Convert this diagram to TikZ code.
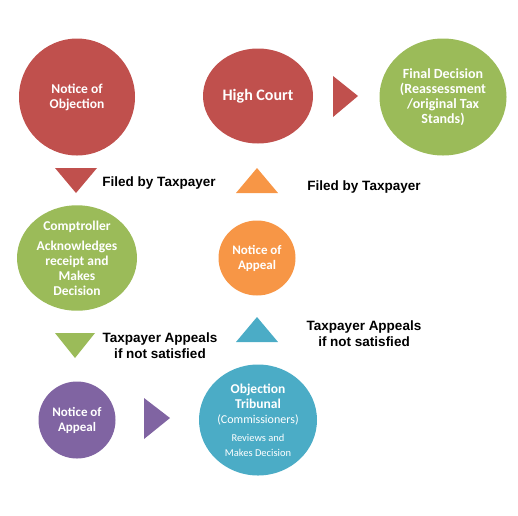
\documentclass[tikz,border=0pt]{standalone}
\usepackage{fontspec}
\setmainfont{Carlito}
\newfontfamily\lblfont{Liberation Sans}
\usetikzlibrary{shapes.geometric}
\definecolor{stepred}{HTML}{C0504D}
\definecolor{stepgreen}{HTML}{9BBB59}
\definecolor{steporange}{HTML}{F79646}
\definecolor{steppurple}{HTML}{8064A2}
\definecolor{stepteal}{HTML}{4BACC6}
\newcommand{\smalltxt}{\mdseries\fontsize{10.5}{12}\selectfont}

\begin{document}
\begin{tikzpicture}[x=1pt,y=-1pt,
  stage/.style={ellipse,inner sep=0pt,align=center,text=white,font=\bfseries\fontsize{13.5}{15}\selectfont},
  lab/.style={align=center,font=\lblfont\bfseries\fontsize{13.5}{16}\selectfont}]
  \useasboundingbox (0,0) rectangle (518,515);
  % row 1
  \node[stage,fill=stepred,minimum width=116pt,minimum height=117pt] (objection) at (77,97) {Notice of\\Objection};
  \node[stage,fill=stepred,minimum width=110pt,minimum height=95pt,font=\bfseries\fontsize{16}{18}\selectfont] (court) at (258,96) {High Court};
  \node[stage,fill=stepgreen,minimum width=127pt,minimum height=117pt,font=\bfseries\fontsize{14}{15}\selectfont] (final) at (443,97) {Final Decision\\(Reassessment\\/original Tax\\Stands)};
  % row 2
  \node[stage,fill=stepgreen,minimum width=120pt,minimum height=103pt,font=\bfseries\fontsize{13.5}{15}\selectfont] (comptroller) at (77,258) {Comptroller\\[5pt]Acknowledges\\receipt and\\Makes\\Decision};
  \node[stage,fill=steporange,minimum width=77pt,minimum height=75pt,font=\bfseries\fontsize{13}{15}\selectfont] (appealO) at (257,258) {Notice of\\Appeal};
  % row 3
  \node[stage,fill=steppurple,minimum width=77pt,minimum height=77pt,font=\bfseries\fontsize{13}{15}\selectfont] (appealP) at (77,420) {Notice of\\Appeal};
  \node[stage,fill=stepteal,minimum width=118pt,minimum height=111pt] (tribunal) at (258,420) {Objection\\Tribunal\\\mdseries\fontsize{12}{15}\selectfont (Commissioners)\\[3pt]\smalltxt Reviews and\\\smalltxt Makes Decision};
  % arrow heads
  \fill[stepred] (333,76) -- (358,96) -- (333,117) -- cycle;
  \fill[stepred] (55,168) -- (97,168) -- (76,193) -- cycle;
  \fill[steporange] (236,193) -- (278,193) -- (257,168) -- cycle;
  \fill[stepgreen] (55,333) -- (95,333) -- (75,358) -- cycle;
  \fill[stepteal] (236,342) -- (278,342) -- (257,317) -- cycle;
  \fill[steppurple] (144,398) -- (170,418) -- (144,439) -- cycle;
  % labels
  \node[lab] (filedL) at (159,183) {Filed by Taxpayer};
  \node[lab] (filedR) at (364,187) {Filed by Taxpayer};
  \node[lab] (appealsL) at (160,346) {Taxpayer Appeals\\if not satisfied};
  \node[lab] (appealsR) at (364,334) {Taxpayer Appeals\\if not satisfied};
\end{tikzpicture}
\end{document}
